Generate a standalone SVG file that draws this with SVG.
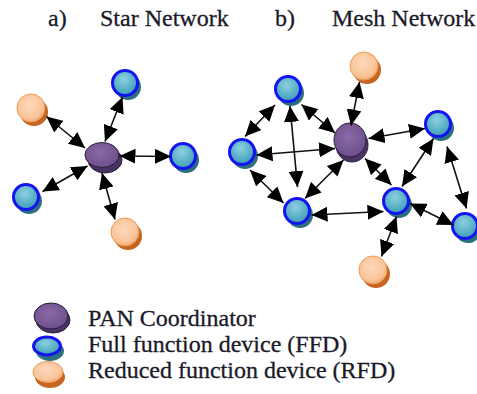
<svg xmlns="http://www.w3.org/2000/svg" width="477" height="394" viewBox="0 0 477 394">
  <style>
    .title { font-family: "Liberation Serif", "Times New Roman", serif; font-size: 24px; fill: #1a1a28; stroke: #1a1a28; stroke-width: 0.3; }
    .legend { font-family: "Liberation Serif", "Times New Roman", serif; font-size: 24px; fill: #1a1a28; stroke: #1a1a28; stroke-width: 0.3; }
    .link { stroke: #111; stroke-width: 1.6; fill: none; marker-start: url(#head); marker-end: url(#head); }
    .ffd { fill: url(#gBlue); stroke: #1414f0; stroke-width: 3; }
    .ffd-sh { fill: #2c6f7e; }
    .rfd { fill: url(#gOrange); stroke: #ee9a55; stroke-width: 1; }
    .rfd-sh { fill: #c4661f; }
    .pan { fill: url(#gPurple); stroke: #2a1e3a; stroke-width: 1; }
    .pan-sh { fill: #4a3262; stroke: #2a1e3a; stroke-width: 1; }
  </style>
  <defs>
    <radialGradient id="gBlue" cx="0.45" cy="0.35" r="0.65">
      <stop offset="0" stop-color="#8cd0e0"/>
      <stop offset="1" stop-color="#3c9db6"/>
    </radialGradient>
    <radialGradient id="gOrange" cx="0.45" cy="0.4" r="0.65">
      <stop offset="0" stop-color="#fdd9bb"/>
      <stop offset="0.7" stop-color="#f9c59a"/>
      <stop offset="1" stop-color="#f2a466"/>
    </radialGradient>
    <radialGradient id="gPurple" cx="0.45" cy="0.4" r="0.65">
      <stop offset="0" stop-color="#8a6aa8"/>
      <stop offset="1" stop-color="#6a4d88"/>
    </radialGradient>
    <!-- double-headed link tip, sized in user units -->
    <marker id="head" viewBox="0 0 16 15" markerWidth="16" markerHeight="15" refX="16" refY="7.5" markerUnits="userSpaceOnUse" orient="auto-start-reverse">
      <path d="M0,0 L16,7.5 L0,15 z" fill="#000"/>
    </marker>
  </defs>

  <rect width="477" height="394" fill="#fff"/>

  <!-- headings -->
  <g id="titles">
    <text class="title" x="48" y="26">a)</text>
    <text class="title" x="100" y="26">Star Network</text>
    <text class="title" x="275" y="26">b)</text>
    <text class="title" x="332" y="26">Mesh Network</text>
  </g>

  <!-- star network nodes -->
  <g id="star-pan">
    <ellipse class="pan-sh" cx="105" cy="160" rx="17" ry="13"/>
    <ellipse class="pan" cx="102" cy="155" rx="17" ry="12.5"/>
  </g>
  <g id="star-ffd-top">
    <circle class="ffd-sh" cx="128" cy="87" r="13"/>
    <circle class="ffd" cx="125" cy="83" r="12.5"/>
  </g>
  <g id="star-rfd-left">
    <circle class="rfd-sh" cx="34" cy="112" r="14"/>
    <circle class="rfd" cx="31" cy="108" r="14"/>
  </g>
  <g id="star-ffd-right">
    <circle class="ffd-sh" cx="186" cy="160" r="13"/>
    <circle class="ffd" cx="183" cy="156" r="12.5"/>
  </g>
  <g id="star-ffd-left">
    <circle class="ffd-sh" cx="29" cy="201" r="13"/>
    <circle class="ffd" cx="26" cy="197" r="12.5"/>
  </g>
  <g id="star-rfd-bottom">
    <circle class="rfd-sh" cx="128" cy="236" r="14"/>
    <circle class="rfd" cx="125" cy="232" r="14"/>
  </g>

  <!-- mesh network nodes -->
  <g id="mesh-pan">
    <ellipse class="pan-sh" cx="352" cy="145" rx="16" ry="17"/>
    <ellipse class="pan" cx="350" cy="140" rx="16" ry="17"/>
  </g>
  <g id="mesh-rfd-top">
    <circle class="rfd-sh" cx="367" cy="70" r="14"/>
    <circle class="rfd" cx="364" cy="66" r="14"/>
  </g>
  <g id="mesh-ffd-a">
    <circle class="ffd-sh" cx="291" cy="93" r="13"/>
    <circle class="ffd" cx="288" cy="89" r="12.5"/>
  </g>
  <g id="mesh-ffd-b">
    <circle class="ffd-sh" cx="245" cy="156" r="13"/>
    <circle class="ffd" cx="242" cy="152" r="12.5"/>
  </g>
  <g id="mesh-ffd-c">
    <circle class="ffd-sh" cx="300" cy="215" r="13"/>
    <circle class="ffd" cx="297" cy="211" r="12.5"/>
  </g>
  <g id="mesh-ffd-d">
    <circle class="ffd-sh" cx="441" cy="128" r="13"/>
    <circle class="ffd" cx="438" cy="124" r="12.5"/>
  </g>
  <g id="mesh-ffd-e">
    <circle class="ffd-sh" cx="399" cy="205" r="13"/>
    <circle class="ffd" cx="396" cy="201" r="12.5"/>
  </g>
  <g id="mesh-ffd-f">
    <circle class="ffd-sh" cx="468" cy="230" r="13"/>
    <circle class="ffd" cx="465" cy="226" r="12.5"/>
  </g>
  <g id="mesh-rfd-bottom">
    <circle class="rfd-sh" cx="376" cy="274" r="14"/>
    <circle class="rfd" cx="373" cy="270" r="14"/>
  </g>

  <!-- two-way links -->
  <g id="connectors">
    <!-- star -->
    <line class="link" x1="105" y1="141.5" x2="122.5" y2="97"/>
    <line class="link" x1="85" y1="148" x2="46.5" y2="116.5"/>
    <line class="link" x1="119.5" y1="156" x2="171" y2="156.5"/>
    <line class="link" x1="87.5" y1="166" x2="42.5" y2="191.5"/>
    <line class="link" x1="102" y1="173" x2="115" y2="219.5"/>
    <!-- mesh -->
    <line class="link" x1="351" y1="125.5" x2="359.5" y2="82"/>
    <line class="link" x1="275" y1="105" x2="245" y2="136.5"/>
    <line class="link" x1="290" y1="106" x2="297.5" y2="187"/>
    <line class="link" x1="301.5" y1="104.5" x2="335" y2="133"/>
    <line class="link" x1="256.5" y1="155" x2="335" y2="148.5"/>
    <line class="link" x1="250" y1="170" x2="283.5" y2="203"/>
    <line class="link" x1="305" y1="198.5" x2="343.5" y2="160"/>
    <line class="link" x1="311.5" y1="215" x2="383.5" y2="211.5"/>
    <line class="link" x1="368.5" y1="138.5" x2="425" y2="128.5"/>
    <line class="link" x1="365" y1="158.5" x2="391.5" y2="185"/>
    <line class="link" x1="433.5" y1="138.5" x2="402" y2="186.5"/>
    <line class="link" x1="447" y1="146.5" x2="466.5" y2="208.5"/>
    <line class="link" x1="410" y1="203.5" x2="453.5" y2="225"/>
    <line class="link" x1="396.5" y1="216.5" x2="381.5" y2="256.5"/>
  </g>

  <!-- key -->
  <g id="legend-pan">
    <ellipse class="pan-sh" cx="53" cy="320" rx="17" ry="13"/>
    <ellipse class="pan" cx="51" cy="316" rx="17" ry="13"/>
    <text class="legend" x="88" y="326">PAN Coordinator</text>
  </g>
  <g id="legend-ffd">
    <ellipse class="ffd-sh" cx="50" cy="351" rx="14" ry="10"/>
    <ellipse class="ffd" cx="47" cy="346" rx="13.5" ry="9"/>
    <text class="legend" x="88" y="352">Full function device (FFD)</text>
  </g>
  <g id="legend-rfd">
    <ellipse class="rfd-sh" cx="50" cy="377" rx="15" ry="11"/>
    <ellipse class="rfd" cx="48" cy="372" rx="15" ry="10.5"/>
    <text class="legend" x="88" y="378">Reduced function device (RFD)</text>
  </g>
</svg>
